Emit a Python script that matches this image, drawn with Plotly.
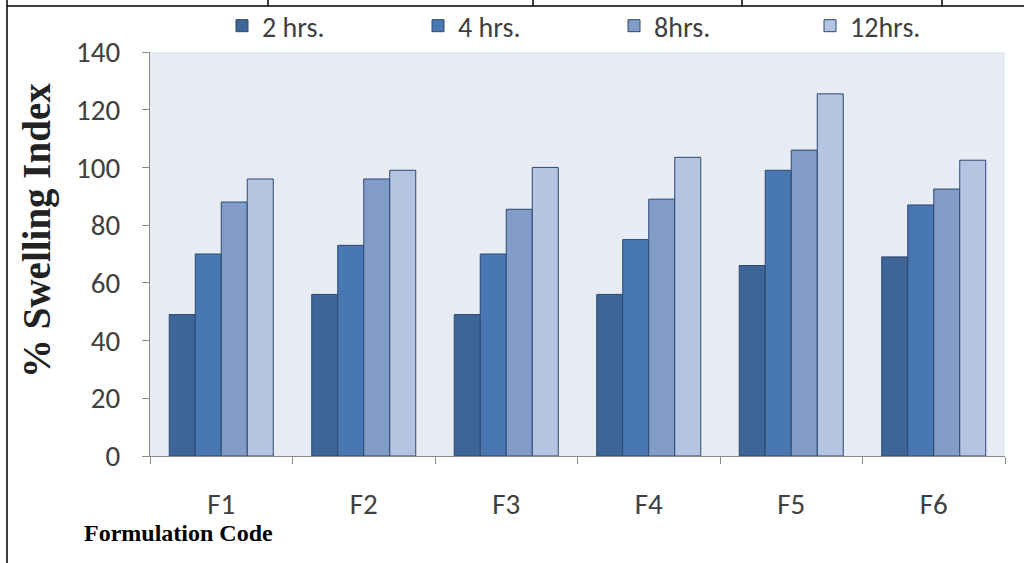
import plotly.graph_objects as go

# Formulation codes on the x axis
formulations = ["F1", "F2", "F3", "F4", "F5", "F6"]

# % swelling index at each time point
hrs_2 = [49, 56, 49, 56, 66, 69]
hrs_4 = [70, 73, 70, 75, 99, 87]
hrs_8 = [88, 96, 85.5, 89, 106, 92.5]
hrs_12 = [96, 99, 100, 103.5, 125.5, 102.5]

series_names = ["2 hrs.", "4 hrs.", "8hrs.", "12hrs."]
series_values = [hrs_2, hrs_4, hrs_8, hrs_12]
series_colors = ["#3D6597", "#4877B1", "#819CC8", "#B5C4E1"]

y_ticks = [0, 20, 40, 60, 80, 100, 120, 140]

W, H = 1024, 563
label_font = "Carlito, Lato, sans-serif"
serif_font = "Liberation Serif, Times New Roman, serif"

fig = go.Figure()
for name, vals, col in zip(series_names, series_values, series_colors):
    fig.add_trace(go.Bar(
        x=formulations, y=vals, name=name,
        marker=dict(color=col, line=dict(color="#2C4870", width=1)),
    ))

# Plot box in pixels
px_left, px_right, px_top, px_bottom = 150, 1005, 52, 456

fig.update_layout(
    width=W, height=H,
    margin=dict(l=0, r=0, t=0, b=0, autoexpand=False),
    paper_bgcolor="white",
    plot_bgcolor="#E7ECF4",
    barmode="group",
    bargap=0.27,
    bargroupgap=0,
    showlegend=True,
    legend=dict(
        orientation="h",
        x=222 / W, xanchor="left",
        y=1 - 1 / H, yanchor="top",
        font=dict(family=label_font, size=28, color="#404040"),
        entrywidth=151, entrywidthmode="pixels",
        itemwidth=30,
        bgcolor="rgba(0,0,0,0)",
        traceorder="normal",
    ),
    xaxis=dict(
        domain=[px_left / W, px_right / W],
        automargin=False,
        showline=True, linecolor="#8A8A8A", linewidth=1,
        ticks="outside", ticklen=7, tickcolor="#8A8A8A",
        tickson="boundaries",
        showgrid=False, zeroline=False,
        tickfont=dict(family=label_font, size=29, color="#404040"),
        ticklabelstandoff=22,
    ),
    yaxis=dict(
        domain=[1 - px_bottom / H, 1 - px_top / H],
        automargin=False,
        range=[0, 140],
        tickvals=y_ticks,
        showline=True, linecolor="#8A8A8A", linewidth=1,
        ticks="outside", ticklen=7, tickcolor="#8A8A8A",
        showgrid=False, zeroline=False,
        tickfont=dict(family=label_font, size=29, color="#404040"),
        ticklabelstandoff=16,
    ),
)

# Axis titles
fig.add_annotation(
    text="<b>% Swelling Index</b>", textangle=-90,
    xref="paper", yref="paper",
    x=37 / W, y=1 - 231 / H, xanchor="center", yanchor="middle",
    showarrow=False,
    font=dict(family=serif_font, size=39, color="#222222"),
)
fig.add_annotation(
    text="<b>Formulation Code</b>",
    xref="paper", yref="paper",
    x=82 / W, y=1 - 533 / H, xanchor="left", yanchor="middle",
    showarrow=False,
    font=dict(family=serif_font, size=24, color="black"),
)

# Surrounding table borders
line_style = dict(color="black", width=1.5)
fig.add_shape(type="line", xref="paper", yref="paper",
              x0=7 / W, x1=1, y0=1 - 6 / H, y1=1 - 6 / H, line=line_style)
fig.add_shape(type="line", xref="paper", yref="paper",
              x0=7 / W, x1=7 / W, y0=0, y1=1, line=line_style)
for cx in [268, 533, 742, 942]:
    fig.add_shape(type="line", xref="paper", yref="paper",
                  x0=cx / W, x1=cx / W, y0=1 - 6 / H, y1=1, line=line_style)

fig.write_html("out.html")
